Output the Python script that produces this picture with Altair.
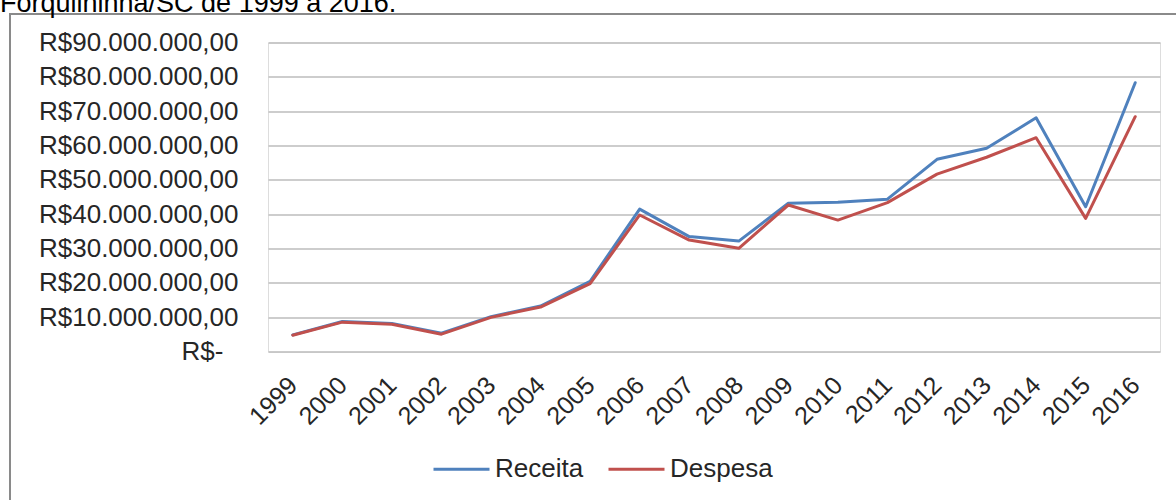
import altair as alt
import pandas as pd

# Receita e despesa anuais (em milhões de R$), Forquilhinha/SC
anos = ["1999", "2000", "2001", "2002", "2003", "2004", "2005", "2006", "2007",
        "2008", "2009", "2010", "2011", "2012", "2013", "2014", "2015", "2016"]
receita = [4.9, 8.8, 8.2, 5.4, 10.2, 13.3, 20.5, 41.5, 33.5,
           32.2, 43.2, 43.5, 44.4, 56.0, 59.2, 68.1, 42.2, 78.3]
despesa = [4.8, 8.6, 8.0, 5.1, 10.0, 13.0, 19.8, 39.8, 32.5,
           30.1, 42.7, 38.3, 43.4, 51.7, 56.6, 62.3, 38.8, 68.4]

series = ["Receita", "Despesa"]
cores = ["#4F81BD", "#C0504D"]

y_ticks = [0, 10, 20, 30, 40, 50, 60, 70, 80, 90]
y_labels = ["R$-", "R$10.000.000,00", "R$20.000.000,00", "R$30.000.000,00",
            "R$40.000.000,00", "R$50.000.000,00", "R$60.000.000,00",
            "R$70.000.000,00", "R$80.000.000,00", "R$90.000.000,00"]

titulo_txt = "Forquilhinha/SC de 1999 a 2016."

FONTE = "Liberation Sans"
TEXTO = "#262626"

df = pd.DataFrame({
    "Ano": anos * 2,
    "Serie": ["Receita"] * len(anos) + ["Despesa"] * len(anos),
    "Valor": receita + despesa,
})

# label lookup for the value axis
label_expr = "''"
for v, lab in zip(y_ticks, y_labels):
    label_expr = f"datum.value == {v} ? '{lab}' : ({label_expr})"

x_enc = alt.X(
    "Ano:N",
    sort=anos,
    scale=alt.Scale(type="point", padding=0.5),
    axis=alt.Axis(
        title=None, labelAngle=-45, labelAlign="right", labelBaseline="middle",
        labelPadding=29, ticks=False, tickSize=0, domain=False, grid=False,
        labelOverlap=False, labelFontSize=25, labelColor=TEXTO, labelFont=FONTE,
        labelLimit=0,
    ),
)
y_enc = alt.Y(
    "Valor:Q",
    scale=alt.Scale(domain=[0, 90], nice=False, zero=True),
    axis=alt.Axis(
        title=None, values=y_ticks, labelExpr=label_expr, grid=True,
        gridColor="#BDBDBD", gridWidth=1.5, domain=False, ticks=False, tickSize=0,
        # the zero label sits a little further from the plot
        labelPadding=alt.ExprRef("datum.value == 0 ? 45 : 30"),
        labelFontSize=26, labelColor=TEXTO, labelFont=FONTE,
        labelOverlap=False, labelLimit=0,
    ),
)
color_enc = alt.Color(
    "Serie:N",
    scale=alt.Scale(domain=series, range=cores),
    legend=alt.Legend(
        title=None, orient="none", legendX=164, legendY=397, direction="horizontal",
        symbolType="stroke", symbolSize=3136, symbolStrokeWidth=3,
        labelFontSize=26, labelFont=FONTE, labelColor=TEXTO, labelOffset=4,
        columnPadding=18, padding=0,
    ),
)


def linha(nome):
    return (
        alt.Chart(df)
        .transform_filter(alt.datum.Serie == nome)
        .mark_line(strokeWidth=3, strokeJoin="round", strokeCap="round")
        .encode(x=x_enc, y=y_enc, color=color_enc)
    )


# outer frame of the chart box
moldura = (
    alt.Chart(pd.DataFrame({"k": [0]}))
    .mark_rect(fillOpacity=0, stroke="#8A8A8A", strokeWidth=2)
    .encode(x=alt.value(-258), x2=alt.value(940), y=alt.value(-28.5), y2=alt.value(480))
)

# caption line above the frame
titulo = (
    alt.Chart(pd.DataFrame({"t": [titulo_txt]}))
    .mark_text(align="left", baseline="alphabetic", fontSize=27, font=FONTE, color="#000000")
    .encode(text="t:N", x=alt.value(-268), y=alt.value(-30.5))
)

chart = (
    alt.layer(moldura, titulo, linha("Receita"), linha("Despesa"))
    .properties(
        width=892,
        height=309.2,
        padding={"left": 268, "top": 42.5, "right": 16, "bottom": 148.3},
        autosize=alt.AutoSizeParams(type="none"),
        background="white",
    )
    .configure_view(stroke=None)
    .configure(font=FONTE)
)

chart.save("out.html", embed_options={"renderer": "svg", "actions": False})
